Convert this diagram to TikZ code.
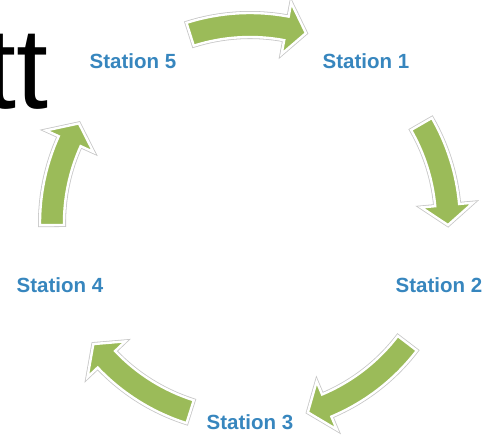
\documentclass[tikz,border=0pt]{standalone}
\usepackage{fontspec}
\setmainfont{Liberation Sans}
\definecolor{stationblue}{RGB}{55,134,190}
\definecolor{arrowgreen}{RGB}{155,187,89}
\tikzset{
  station/.style={font=\fontsize{20.5}{24}\selectfont\bfseries, text=stationblue, inner sep=0pt, anchor=center},
  arrowedge/.style={draw=black!22, line width=4pt, line join=miter},
  arrowbody/.style={fill=arrowgreen, draw=white, line width=2.4pt, line join=miter}
}
% #1 tail angle, #2 tip angle (clockwise, #1 > #2); \ab = head base angle
\newcommand{\cyclearrowpath}[2]{%
  (#1:210pt) arc[start angle=#1, end angle=\ab, radius=210pt]
  -- (\ab:224pt) -- (#2:198pt) -- (\ab:172pt) -- (\ab:186pt)
  arc[start angle=\ab, end angle=#1, radius=186pt] -- cycle}
\newcommand{\cyclearrow}[2]{%
  \pgfmathsetmacro{\ab}{#2+5.8}%
  \path[arrowedge] \cyclearrowpath{#1}{#2};
  \path[arrowbody] \cyclearrowpath{#1}{#2};}
\begin{document}
\begin{tikzpicture}[x=1pt,y=1pt]
\useasboundingbox (0,0) rectangle (482,434);
% clipped title fragment
\node[font=\fontsize{115}{120}\selectfont, anchor=base east, inner sep=0pt] (title) at (49,325) {tt};
\coordinate (C) at (250,211);
\begin{scope}[shift={(C)}]
  \cyclearrow{107.6}{73.6}
  \cyclearrow{30}{-0.6}
  \cyclearrow{-37.4}{-73}
  \cyclearrow{252.4}{217.7}
  \cyclearrow{180.6}{149.8}
\end{scope}
\node[station] (s5) at (133,373) {Station 5};
\node[station] (s1) at (366,373) {Station 1};
\node[station] (s2) at (439,148.5) {Station 2};
\node[station] (s3) at (250,12) {Station 3};
\node[station] (s4) at (60,148.5) {Station 4};
\end{tikzpicture}
\end{document}
